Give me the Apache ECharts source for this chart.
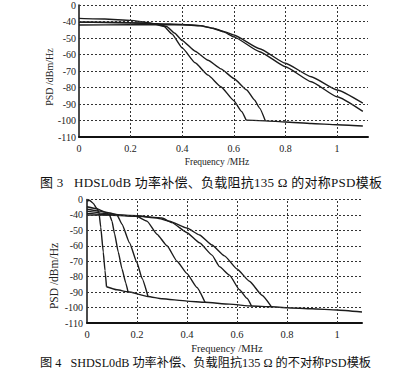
<!DOCTYPE html>
<html>
<head>
<meta charset="utf-8">
<script src="https://cdn.jsdelivr.net/npm/echarts@6/dist/echarts.min.js"></script>
<style>
  html, body { margin: 0; padding: 0; background: #fff; }
  #page { position: relative; width: 400px; height: 377px; overflow: hidden; }
  #chart3 { position: absolute; left: 0; top: 0; width: 400px; height: 175px; }
  #chart4 { position: absolute; left: 0; top: 190px; width: 400px; height: 150px; }
  .lbl { position: absolute; transform: translate(-50%, -50%); white-space: nowrap; color: #222;
         font-family: "Liberation Serif", "DejaVu Serif", serif; line-height: 1; }
  .rot { transform: translate(-50%, -50%) rotate(-90deg); }
  .cap { position: absolute; transform: translateY(-50%); white-space: nowrap; color: #111; line-height: 1;
         font-family: "Liberation Serif", "Noto Sans CJK SC", serif; }
</style>
</head>
<body>
<div id="page">
  <div id="chart3"></div>
  <div id="chart4"></div>
  <div class="lbl rot" style="left:50px; top:77px; font-size:10px;">PSD /dBm/Hz</div>
  <div class="lbl" style="left:217px; top:163px; font-size:9.5px;">Frequency /MHz</div>
  <div class="cap" style="left:40px; top:182px; font-size:13px; letter-spacing:0.25px;">图 3&nbsp;&nbsp; HDSL0dB 功率补偿、负载阻抗135 Ω 的对称PSD模板</div>
  <div class="lbl rot" style="left:55px; top:276px; font-size:11.5px;">PSD /dBm/Hz</div>
  <div class="lbl" style="left:227px; top:349px; font-size:10.5px;">Frequency /MHz</div>
  <div class="cap" style="left:40px; top:363px; font-size:12.2px;">图 4&nbsp;&nbsp; SHDSL0dB 功率补偿、负载阻抗135 Ω 的不对称PSD模板</div>
</div>
<script>
// y ticks: the scan labels the top line (-30) as "0"
const yTicks = [-110, -100, -90, -80, -70, -60, -50, -40, -30]
const yTickLabels = ['-110', '-100', '-90', '-80', '-70', '-60', '-50', '-40', '0']
const xTickLabels = ['0', '0.2', '0.4', '0.6', '0.8', '1']
const xGridValues = [0.2, 0.4, 0.6, 0.8, 1]

// 图3 HDSL curves [MHz, dBm/Hz]
const hdslS1 = [[0, -38.1], [0.1, -38.5], [0.2, -39.3], [0.28, -41], [0.33, -43], [0.36, -47.5], [0.4, -56], [0.45, -65], [0.5, -72.5], [0.55, -79.5], [0.6, -88], [0.63, -94.5], [0.648, -99.8]]
const hdslS2 = [[0, -40.4], [0.1, -40.5], [0.2, -40.8], [0.3, -41.5], [0.34, -43], [0.37, -47], [0.4, -51.5], [0.45, -58], [0.5, -63.5], [0.55, -68.7], [0.6, -74.5], [0.65, -81.5], [0.68, -87.5], [0.7, -92.5], [0.722, -100.2]]
const hdslL1 = [[0, -40.4], [0.2, -40.8], [0.3, -41.3], [0.4, -41.8], [0.47, -42.5], [0.52, -44], [0.56, -46], [0.6, -48.2], [0.7, -56.5], [0.8, -65.3], [0.9, -73.5], [1.0, -81.5], [1.1, -89.5]]
const hdslL2 = [[0, -42.1], [0.2, -42], [0.3, -41.9], [0.4, -42], [0.47, -42.6], [0.52, -44.2], [0.56, -46.3], [0.6, -49.3], [0.7, -58.3], [0.8, -67.4], [0.9, -76.5], [1.0, -85.6], [1.1, -94.5]]
const hdslFloor = [[0.648, -99.8], [0.722, -100.2], [0.8, -100.9], [0.9, -101.8], [1.0, -102.6], [1.1, -103.3]]

// 图4 SHDSL curves
const shdslC1 = [[0, -31], [0.01, -30.5], [0.025, -32.5], [0.04, -36], [0.048, -38.5], [0.055, -48], [0.065, -64], [0.072, -76], [0.078, -86.5]]
const shdslC2 = [[0, -34.7], [0.04, -36], [0.07, -38], [0.09, -40], [0.1, -44], [0.11, -52], [0.125, -64], [0.14, -75], [0.155, -84], [0.164, -89.8]]
const shdslC3 = [[0, -36.2], [0.05, -37.5], [0.1, -39], [0.12, -40], [0.14, -46], [0.17, -58], [0.2, -71], [0.22, -81], [0.244, -92.8]]
const shdslC4 = [[0, -37.5], [0.1, -39.5], [0.2, -41], [0.24, -44], [0.28, -52.5], [0.32, -60], [0.36, -70], [0.4, -78], [0.44, -87], [0.472, -96.6]]
const shdslC5 = [[0, -39], [0.1, -40], [0.2, -40.5], [0.3, -42], [0.34, -45], [0.4, -51.5], [0.45, -58], [0.5, -66], [0.53, -73.5], [0.57, -79], [0.61, -88.5], [0.64, -94], [0.658, -99]]
const shdslC6 = [[0, -40], [0.1, -40.2], [0.2, -40.8], [0.28, -42], [0.33, -44], [0.4, -48.5], [0.45, -53], [0.5, -59.5], [0.55, -66.5], [0.6, -75], [0.65, -83], [0.7, -92], [0.738, -99.5]]
const shdslFloor = [[0.078, -86.5], [0.12, -88.5], [0.164, -89.8], [0.244, -92.8], [0.3, -94.3], [0.4, -95.8], [0.472, -96.6], [0.57, -97.8], [0.658, -99], [0.738, -99.5], [0.8, -100.1], [0.9, -100.8], [1.0, -101.6], [1.1, -102.9]]

const serif = '"Liberation Serif", "DejaVu Serif", serif'
const ink = '#1c1c1c'

const yLabel = (v) => {
  const i = yTicks.indexOf(Math.round(v))
  return i >= 0 ? yTickLabels[i] : String(v)
}
const xLabel = (v) => {
  const i = Math.round(v / 0.2)
  return Math.abs(v - i * 0.2) < 1e-6 && xTickLabels[i] ? xTickLabels[i] : ' '
}

// dotted grid drawn as reference lines on an empty series
const gridSeries = {
  type: 'line',
  data: [],
  silent: true,
  z: 1,
  markLine: {
    silent: true,
    symbol: 'none',
    animation: false,
    label: { show: false },
    lineStyle: { color: '#333', type: [2, 2], width: 1 },
    data: [
      ...yTicks.slice(1).map((v) => ({ yAxis: v })),
      ...xGridValues.map((v) => ({ xAxis: v }))
    ]
  }
}

const buildOption = (grid, xMax, xFont, yMargin, curves) => ({
  animation: false,
  grid,
  xAxis: {
    type: 'value',
    min: 0,
    max: xMax,
    interval: 0.2,
    axisLine: { lineStyle: { color: '#111', width: 2 } },
    axisTick: { show: false },
    axisLabel: { color: '#222', fontFamily: serif, fontSize: xFont, margin: 6, showMaxLabel: false, formatter: xLabel },
    splitLine: { show: false }
  },
  yAxis: {
    type: 'value',
    min: -110,
    max: -30,
    interval: 10,
    axisLine: { show: true, lineStyle: { color: '#111', width: 1.5 } },
    axisTick: { show: false },
    axisLabel: { color: '#222', fontFamily: serif, fontSize: 10, margin: yMargin, formatter: yLabel },
    splitLine: { show: false }
  },
  series: [
    gridSeries,
    ...curves.map((data) => ({
      type: 'line',
      data,
      symbol: 'none',
      smooth: 0.15,
      smoothMonotone: 'x',
      z: 3,
      lineStyle: { color: ink, width: 1.4 }
    }))
  ]
})

const chart3 = echarts.init(document.getElementById('chart3'), null, { renderer: 'svg' })
chart3.setOption(buildOption(
  { left: 79, top: 5, width: 289, height: 132 }, 1.12, 10, 3,
  [hdslS1, hdslS2, hdslL1, hdslL2, hdslFloor]
))

const chart4 = echarts.init(document.getElementById('chart4'), null, { renderer: 'svg' })
chart4.setOption(buildOption(
  { left: 87, top: 9.5, width: 275, height: 126.5 }, 1.1, 10.5, 4,
  [shdslC1, shdslC2, shdslC3, shdslC4, shdslC5, shdslC6, shdslFloor]
))
</script>
</body>
</html>
